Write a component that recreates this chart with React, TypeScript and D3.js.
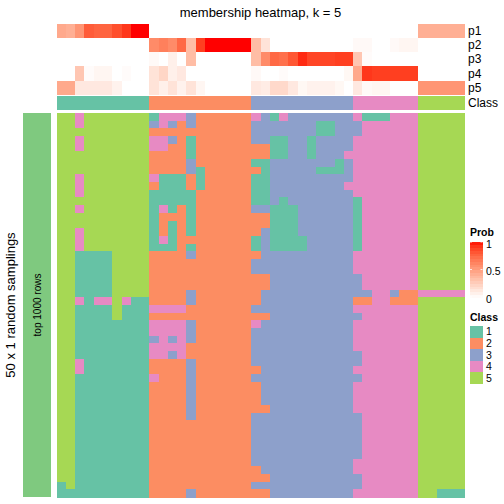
import React from "react";
import * as d3 from "d3";

const title = "membership heatmap, k = 5";
const probRows = ["p1", "p2", "p3", "p4", "p5"];

const p1 = [0.45,0.42,0.55,0.8,0.77,0.77,0.85,0.92,1,1, 0,0,0,0,0,0,0,0,0,0,0, 0,0,0,0,0,0,0,0,0,0,0, 0,0,0,0,0,0,0, 0.42,0.42,0.42,0.42,0.42];
const p2 = [0,0,0,0,0,0,0,0,0,0, 0.6,0.65,0.6,0.75,0.35,0.9,1,1,1,1,1, 0.35,0.15,0,0,0,0,0,0,0,0,0, 0.03,0.03,0,0,0.03,0.05,0.05, 0,0,0,0,0];
const p3 = [0,0,0,0,0,0,0,0,0,0, 0.03,0,0.08,0,0.35,0,0,0,0,0,0, 0.35,0.6,0.75,0.72,0.82,0.95,0.88,0.88,0.88,0.9,0.9, 0.3,0.02,0,0,0,0,0, 0,0,0,0,0];
const p4 = [0,0,0.3,0.02,0.05,0.05,0,0.02,0,0, 0.15,0.22,0.08,0.12,0,0,0,0,0,0,0, 0.03,0,0,0.02,0,0,0,0,0,0,0.04, 0.45,0.92,0.9,0.9,0.9,0.9,0.9, 0,0,0,0,0];
const p5 = [0.45,0.45,0.12,0.12,0.12,0.12,0.07,0,0,0, 0.15,0.08,0.15,0.07,0.15,0.05,0,0,0,0,0, 0.12,0.1,0.2,0.2,0.12,0.04,0.07,0.07,0.07,0.04,0, 0.12,0.03,0.05,0.05,0,0,0, 0.55,0.55,0.55,0.55,0.55];

const classAnn = "1111111111" + "22222222222" + "33333333333" + "4444444" + "55555";

// 50 random samplings x 44 samples, class per cell
const membership = [
  "5545555555"+"14443222222"+"43143333333"+"4111444"+"55555",
  "5545555555"+"34323222222"+"33333331133"+"3444444"+"55555",
  "5555555555"+"22222222222"+"33333331133"+"3444444"+"55555",
  "5545555555"+"44321222222"+"33113313333"+"4444444"+"55555",
  "5545555555"+"44221222222"+"22113313333"+"4444444"+"55555",
  "5555555555"+"22221222222"+"22113313334"+"4444444"+"55555",
  "5555555555"+"22223222222"+"11333333313"+"4444444"+"55555",
  "5555555555"+"22223122222"+"21333331113"+"4444444"+"55555",
  "5545555555"+"41112122222"+"11333333333"+"4444444"+"55555",
  "5545555555"+"21112122222"+"11333333334"+"4444444"+"55555",
  "5545555555"+"11111222222"+"11333333333"+"4444444"+"55555",
  "5555555555"+"11111222222"+"11313333333"+"1444444"+"55555",
  "5545555555"+"14121222222"+"33111333333"+"1444444"+"55555",
  "5555555555"+"12221222222"+"22111333333"+"1444444"+"55555",
  "5555555555"+"12121222222"+"22111333333"+"1444444"+"55555",
  "5545555555"+"12121222222"+"23111333333"+"1444444"+"55555",
  "5545555555"+"14122222222"+"13111133333"+"1444444"+"55555",
  "5545555555"+"11121222222"+"13111133333"+"1444444"+"55555",
  "5511115555"+"22223222222"+"23333333333"+"4444444"+"55555",
  "5511115555"+"22222222222"+"33333333333"+"4444444"+"55555",
  "5511115555"+"22222222222"+"33333333333"+"4444444"+"55555",
  "5511115555"+"22222222222"+"22333333333"+"3444444"+"55555",
  "5511115555"+"22222222222"+"22333333333"+"3444444"+"55555",
  "5511115555"+"22223222222"+"23333333333"+"3344322"+"44444",
  "5541445411"+"22223222222"+"23333333333"+"2244222"+"55555",
  "5511115111"+"44442222222"+"33333333333"+"4444444"+"55555",
  "5511115111"+"22222222222"+"22333333333"+"3444444"+"55555",
  "5511111111"+"44443222222"+"43333333333"+"4444444"+"55555",
  "5511111111"+"44443222222"+"33333333333"+"4444444"+"55555",
  "5511111111"+"34343222222"+"33333333333"+"4444444"+"55555",
  "5511111111"+"44442222222"+"33333333333"+"4444444"+"55555",
  "5511111111"+"44342222222"+"33333333333"+"3444444"+"55555",
  "5541111111"+"22223222222"+"33333333333"+"3444444"+"55555",
  "5541111111"+"22223222222"+"23333333333"+"4444444"+"55555",
  "5511111111"+"42223222222"+"33333333333"+"3444444"+"55555",
  "5511111111"+"22223222222"+"23333333333"+"4444444"+"55555",
  "5511111111"+"22223222222"+"23333333333"+"4444444"+"55555",
  "5511111111"+"22223222222"+"23333333333"+"4444444"+"55555",
  "5511111111"+"22223222222"+"22333333333"+"4444444"+"55555",
  "5511111111"+"22223222222"+"33333333333"+"3444444"+"55555",
  "5511111111"+"22222222222"+"33333333333"+"3444444"+"55555",
  "5511111111"+"22222222222"+"33333333333"+"3444444"+"55555",
  "5511111111"+"22222222222"+"33333333333"+"3444444"+"55555",
  "5511111111"+"22222222222"+"33333333333"+"3444444"+"55555",
  "5511111111"+"22222222222"+"33333333333"+"3444444"+"55555",
  "5511111111"+"22222222222"+"33333333333"+"4444444"+"55555",
  "5511111111"+"22222222222"+"23333333333"+"4444444"+"55555",
  "5511111111"+"22222222222"+"22333333333"+"3444444"+"55555",
  "1511111111"+"22222222222"+"33333333333"+"3444444"+"55555",
  "1111111111"+"22223222222"+"22333333333"+"4444444"+"55111",
];

const classLabels = ["1", "2", "3", "4", "5"];
const classColors = ["#66C2A5", "#FC8D62", "#8DA0CB", "#E78AC3", "#A6D854"];
const probTicks = [0, 0.5, 1];

const font = "Liberation Sans, Arial, Helvetica, sans-serif";

export default function App() {
  const nCol = classAnn.length;
  const nRow = membership.length;
  const x = d3.scaleBand<number>().domain(d3.range(nCol)).range([56.7, 464.3]);
  const y = d3.scaleBand<number>().domain(d3.range(nRow)).range([113, 497]);
  const annY = d3.scaleBand<number>().domain(d3.range(5)).range([23.7, 94.7]);
  const probColor = d3.scaleLinear<string>().domain([0, 1]).range(["white", "red"]).interpolate(d3.interpolateLab);
  const classColor = d3.scaleOrdinal<string, string>().domain(classLabels).range(classColors);
  const probs = [p1, p2, p3, p4, p5];
  const legY = d3.scaleLinear().domain([0, 1]).range([297, 242]);
  const classLegY = d3.scaleBand<number>().domain(d3.range(5)).range([326, 384]);
  const gradStops = d3.range(0, 1.0001, 0.05);

  return (
    <svg width={504} height={504} style={{ display: "block", position: "absolute", left: 0, top: 0 }} fontFamily={font}>
      <rect width={504} height={504} fill="white" />
      <text x={260.5} y={17} textAnchor="middle" fontSize={13}>{title}</text>

      <g shapeRendering="crispEdges">
        {probs.map((arr, r) => (
          <g key={"p" + r}>
            {arr.map((v, i) => (
              <rect key={i} x={x(i)} y={annY(r)} width={x.bandwidth() + 0.5} height={annY.bandwidth() + 0.5} fill={probColor(v)} />
            ))}
          </g>
        ))}

        {classAnn.split("").map((c, i) => (
          <rect key={"c" + i} x={x(i)} y={96} width={x.bandwidth() + 0.5} height={14} fill={classColor(c)} />
        ))}

        {membership.map((row, r) =>
          row.split("").map((c, i) => (
            <rect key={r + "-" + i} x={x(i)} y={y(r)} width={x.bandwidth() + 0.5} height={y.bandwidth() + 0.5} fill={classColor(c)} />
          ))
        )}

        <rect x={22.7} y={113} width={28.3} height={384} fill="#7FC97F" />

        {gradStops.slice(0, -1).map((t, i) => (
          <rect key={"g" + i} x={470} y={legY(gradStops[i + 1])} width={12.5} height={legY(t) - legY(gradStops[i + 1]) + 0.5} fill={probColor((t + gradStops[i + 1]) / 2)} />
        ))}
        {classLabels.map((c, i) => (
          <rect key={"lb" + c} x={470} y={classLegY(i)} width={12.5} height={classLegY.bandwidth()} fill={classColor(c)} />
        ))}
      </g>

      {probRows.map((p, r) => (
        <text key={"pl" + r} x={468} y={(annY(r) as number) + annY.bandwidth() / 2} dy="0.35em" fontSize={12}>{p}</text>
      ))}
      <text x={468} y={103} dy="0.35em" fontSize={12}>Class</text>

      <text transform={`translate(40.5,305) rotate(-90)`} textAnchor="middle" fontSize={10}>top 1000 rows</text>
      <text transform={`translate(14.5,305) rotate(-90)`} textAnchor="middle" fontSize={13}>50 x 1 random samplings</text>

      <text x={470} y={235.5} fontSize={10.5} fontWeight="bold">Prob</text>
      {probTicks.map((t) => (
        <g key={"t" + t}>
          <line x1={470} x2={472} y1={legY(t)} y2={legY(t)} stroke="white" strokeWidth={0.8} />
          <line x1={480.5} x2={482.5} y1={legY(t)} y2={legY(t)} stroke="white" strokeWidth={0.8} />
          <text x={486} y={legY(t) + 2} dy="0.35em" fontSize={10.5}>{String(t)}</text>
        </g>
      ))}

      <text x={470} y={321} fontSize={10.5} fontWeight="bold">Class</text>
      {classLabels.map((c, i) => (
        <text key={"lt" + c} x={486} y={(classLegY(i) as number) + classLegY.bandwidth() / 2} dy="0.35em" fontSize={10.5}>{c}</text>
      ))}
    </svg>
  );
}
